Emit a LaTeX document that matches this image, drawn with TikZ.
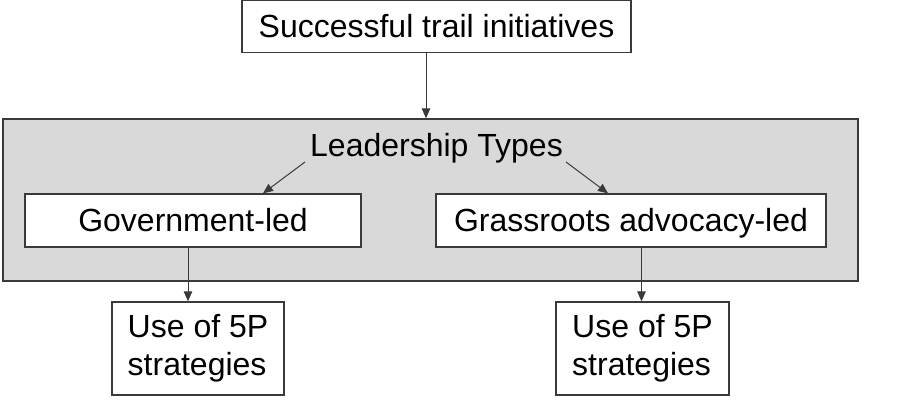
\documentclass[tikz,border=0pt]{standalone}
\usepackage{fontspec}
\setmainfont{Liberation Sans}
\usetikzlibrary{arrows.meta}
\definecolor{lineclr}{HTML}{3A3A3A}
\definecolor{panel}{HTML}{D9D9D9}
\begin{document}
\begin{tikzpicture}[x=1pt,y=-1pt,
  box/.style={draw=lineclr,line width=1.3pt,fill=white,inner sep=0pt,
    font=\fontsize{32}{38}\selectfont,text=black},
  oneline/.style={text height=29pt,text depth=7pt},
  arr/.style={draw=lineclr,line width=1pt,-{Triangle[length=10pt,width=8.5pt]}}]
\useasboundingbox (0,0) rectangle (906,414);
% panel
\node[draw=lineclr,line width=1.3pt,fill=panel,minimum width=855pt,minimum height=162pt,inner sep=0pt] (panel) at (430.5,200) {};
\node[font=\fontsize{32}{38}\selectfont,inner sep=0pt,oneline] (lt) at (436.5,146) {Leadership Types};
% boxes
\node[box,oneline,minimum width=389pt,minimum height=52pt] (top) at (436.5,26.5) {Successful trail initiatives};
\node[box,oneline,minimum width=336pt,minimum height=53pt] (gov) at (193,220.5) {Government-led};
\node[box,oneline,minimum width=390pt,minimum height=53pt] (grass) at (631,220.5) {Grassroots advocacy-led};
\node[box,minimum width=172pt,minimum height=93pt,align=left] (use1) at (198,348.5) {Use of 5P\\strategies};
\node[box,minimum width=173pt,minimum height=93pt,align=left] (use2) at (642.5,348.5) {Use of 5P\\strategies};
% connectors
\coordinate (c1) at (426,0);
\coordinate (c2) at (188,0);
\coordinate (c3) at (641.5,0);
\coordinate (s1) at (305,162);
\coordinate (e1) at (263,194);
\coordinate (s2) at (566,162);
\coordinate (e2) at (608,194);
\draw[arr] (top.south -| c1) -- (panel.north -| c1);
\draw[arr] (s1) -- (gov.north -| e1);
\draw[arr] (s2) -- (grass.north -| e2);
\draw[arr] (gov.south -| c2) -- (use1.north -| c2);
\draw[arr] (grass.south -| c3) -- (use2.north -| c3);
\end{tikzpicture}
\end{document}
